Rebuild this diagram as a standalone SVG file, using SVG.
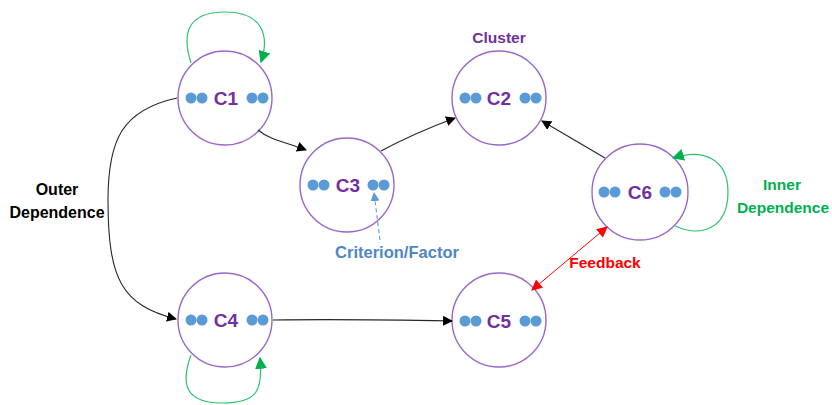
<svg xmlns="http://www.w3.org/2000/svg" width="832" height="405" viewBox="0 0 832 405">
<style>
.node circle.ring{fill:#fff;stroke:#9966CC;stroke-width:1.4}
.dot{fill:#5B9BD5}
.lbl{font-family:"Liberation Sans",Arial,sans-serif;font-weight:bold;font-size:19px;fill:#7030A0;text-anchor:middle}
.t{font-family:"Liberation Sans",Arial,sans-serif;font-weight:bold;font-size:15.5px;text-anchor:middle}
.blk{fill:none;stroke:#262626;stroke-width:1.1}
.grn{fill:none;stroke:#2DC26E;stroke-width:1.2}
</style>
<defs>
<marker id="ab" viewBox="0 0 10 10" refX="9" refY="5" markerWidth="10" markerHeight="10" markerUnits="userSpaceOnUse" orient="auto"><path d="M0,0 L10,5 L0,10 z" fill="#000"/></marker>
<marker id="ag" viewBox="0 0 10 10" refX="9" refY="5" markerWidth="12" markerHeight="12" markerUnits="userSpaceOnUse" orient="auto"><path d="M0,0 L10,5 L0,10 z" fill="#00B050"/></marker>
<marker id="ar" viewBox="0 0 10 10" refX="9" refY="5" markerWidth="11" markerHeight="11" markerUnits="userSpaceOnUse" orient="auto-start-reverse"><path d="M0,0 L10,5 L0,10 z" fill="#FF0000"/></marker>
<marker id="abl" viewBox="0 0 10 10" refX="9" refY="5" markerWidth="9" markerHeight="9" markerUnits="userSpaceOnUse" orient="auto"><path d="M0,0 L10,5 L0,10 z" fill="#5B9BD5"/></marker>
</defs>
<g id="C1" class="node"><circle class="ring" cx="225" cy="98" r="47"/><circle class="dot" cx="191" cy="98" r="5.5"/><circle class="dot" cx="202" cy="98" r="5.5"/><circle class="dot" cx="252" cy="98" r="5.5"/><circle class="dot" cx="263" cy="98" r="5.5"/><text class="lbl" x="226" y="105">C1</text></g>
<g id="C2" class="node"><circle class="ring" cx="499" cy="98" r="47"/><circle class="dot" cx="465" cy="98" r="5.5"/><circle class="dot" cx="476" cy="98" r="5.5"/><circle class="dot" cx="525" cy="98" r="5.5"/><circle class="dot" cx="536" cy="98" r="5.5"/><text class="lbl" x="499" y="105">C2</text></g>
<g id="C3" class="node"><circle class="ring" cx="347" cy="185" r="47"/><circle class="dot" cx="313" cy="185" r="5.5"/><circle class="dot" cx="324" cy="185" r="5.5"/><circle class="dot" cx="373" cy="185" r="5.5"/><circle class="dot" cx="384" cy="185" r="5.5"/><text class="lbl" x="348" y="192">C3</text></g>
<g id="C4" class="node"><circle class="ring" cx="225" cy="320" r="47"/><circle class="dot" cx="191" cy="320" r="5.5"/><circle class="dot" cx="202" cy="320" r="5.5"/><circle class="dot" cx="252" cy="320" r="5.5"/><circle class="dot" cx="263" cy="320" r="5.5"/><text class="lbl" x="226" y="327">C4</text></g>
<g id="C5" class="node"><circle class="ring" cx="499" cy="320" r="47"/><circle class="dot" cx="465" cy="321" r="5.5"/><circle class="dot" cx="476" cy="321" r="5.5"/><circle class="dot" cx="525" cy="321" r="5.5"/><circle class="dot" cx="536" cy="321" r="5.5"/><text class="lbl" x="499" y="328">C5</text></g>
<g id="C6" class="node"><circle class="ring" cx="640" cy="192" r="48"/><circle class="dot" cx="604" cy="192" r="5.5"/><circle class="dot" cx="615" cy="192" r="5.5"/><circle class="dot" cx="665" cy="192" r="5.5"/><circle class="dot" cx="676" cy="192" r="5.5"/><text class="lbl" x="640" y="199">C6</text></g>
<g id="connectors">
<path class="grn" d="M191,63 C182,35 186,12 225,12 C262,12 270,35 261,62" marker-end="url(#ag)"/>
<path class="blk" d="M177,98 C122,110 108,140 108,200 C108,280 122,305 176,319" marker-end="url(#ab)"/>
<path class="blk" d="M258,130 C270,140 285,142 306,150" marker-end="url(#ab)"/>
<path class="blk" d="M381,151 C405,138 428,128 455,118" marker-end="url(#ab)"/>
<path class="blk" d="M605,158 L542,121" marker-end="url(#ab)"/>
<path class="grn" d="M675,226 C702,238 728,228 728,192 C728,160 705,148 673,158" marker-end="url(#ag)"/>
<path d="M532,290 L607,227" fill="none" stroke="#FF0000" stroke-width="1" marker-start="url(#ar)" marker-end="url(#ar)"/>
<path class="blk" d="M273,320 C340,319 400,320 452,321" marker-end="url(#ab)"/>
<path class="grn" d="M191,355 C180,385 186,403 222,403 C258,403 263,390 260,358" marker-end="url(#ag)"/>
<path d="M380,240 L374,193" fill="none" stroke="#5B9BD5" stroke-width="1.1" stroke-dasharray="4,3" marker-end="url(#abl)"/>
</g>
<g id="labels">
<text class="t" x="499" y="43" fill="#7030A0">Cluster</text>
<text class="t" x="57" y="195" fill="#000" style="font-size:16px">Outer</text>
<text class="t" x="57" y="218" fill="#000" style="font-size:16px">Dependence</text>
<text class="t" x="782" y="190" fill="#00B050">Inner</text>
<text class="t" x="783" y="213" fill="#00B050">Dependence</text>
<text class="t" x="605" y="268" fill="#FF0000">Feedback</text>
<text class="t" x="397" y="258" fill="#4F86C6" style="font-size:16.5px">Criterion/Factor</text>
</g>
</svg>
